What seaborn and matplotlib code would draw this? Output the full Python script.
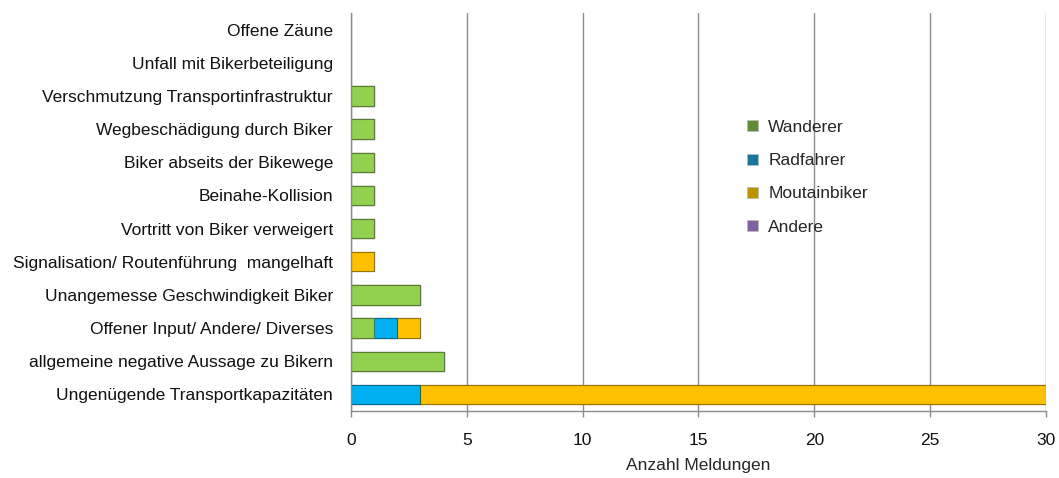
import matplotlib
matplotlib.use("Agg")
import matplotlib.pyplot as plt
import seaborn as sns
import pandas as pd
import numpy as np
from matplotlib.patches import Patch

categories = [
    "Offene Zäune",
    "Unfall mit Bikerbeteiligung",
    "Verschmutzung Transportinfrastruktur",
    "Wegbeschädigung durch Biker",
    "Biker abseits der Bikewege",
    "Beinahe-Kollision",
    "Vortritt von Biker verweigert",
    "Signalisation/ Routenführung  mangelhaft",
    "Unangemesse Geschwindigkeit Biker",
    "Offener Input/ Andere/ Diverses",
    "allgemeine negative Aussage zu Bikern",
    "Ungenügende Transportkapazitäten",
]
wanderer = [0, 0, 1, 1, 1, 1, 1, 0, 3, 1, 4, 0]
radfahrer = [0, 0, 0, 0, 0, 0, 0, 0, 0, 1, 0, 3]
mountainbiker = [0, 0, 0, 0, 0, 0, 0, 1, 0, 1, 0, 27]
andere = [0, 0, 0, 0, 0, 0, 0, 0, 0, 0, 0, 0]
series_names = ["Wanderer", "Radfahrer", "Moutainbiker", "Andere"]
bar_colors = ["#92D050", "#00B0F0", "#FFC000", "#9B7FC0"]
legend_colors = ["#5E8C35", "#1678A0", "#BF9000", "#8064A2"]

sns.set_theme(style="white")
plt.rcParams["font.family"] = ["Liberation Sans", "DejaVu Sans"]

df = pd.DataFrame({
    "cat": categories,
    "W": wanderer,
    "R": radfahrer,
    "M": mountainbiker,
    "A": andere,
})
df["c1"] = df["W"]
df["c2"] = df["c1"] + df["R"]
df["c3"] = df["c2"] + df["M"]
df["c4"] = df["c3"] + df["A"]

fig = plt.figure(figsize=(10.59, 4.78), dpi=100)
ax = fig.add_axes([0.3314, 0.1402, 0.6563, 0.8326])

for col, color in zip(["c4", "c3", "c2", "c1"], bar_colors[::-1]):
    sns.barplot(data=df, y="cat", x=col, order=categories, color=color,
                orient="h", width=0.58, ax=ax, saturation=1,
                edgecolor="none", linewidth=0)

# darker shading edge on each segment (Excel-like bevel)
for p in ax.patches:
    w = p.get_width()
    if w > 0:
        fc = p.get_facecolor()
        p.set_edgecolor(tuple(np.array(fc[:3]) * 0.6) + (1,))
        p.set_linewidth(0.8)

ax.set_xlim(0, 30)
ax.set_ylim(len(categories) - 0.5, -0.5)
ax.set_xticks(range(0, 31, 5))
ax.xaxis.grid(True, color="#8C8C8C", linewidth=1)
ax.set_axisbelow(True)
for s in ["top", "right"]:
    ax.spines[s].set_visible(False)
for s in ["left", "bottom"]:
    ax.spines[s].set_color("#8C8C8C")
    ax.spines[s].set_linewidth(1)

ax.set_yticks(range(len(categories)))
ax.set_yticklabels(categories, fontsize=12.5)
ax.tick_params(axis="y", which="major", length=0, pad=13)
ax.set_yticks(np.arange(-0.5, len(categories), 1), minor=True)
ax.tick_params(axis="y", which="minor", length=4, color="#8C8C8C", width=1, direction="out")
ax.tick_params(axis="x", length=4, color="#8C8C8C", width=1, direction="out",
               bottom=True, pad=12, labelsize=12.5)
ax.set_xlabel("Anzahl Meldungen", fontsize=12.5, labelpad=7)
ax.set_ylabel("")
for lbl in ax.get_xticklabels() + ax.get_yticklabels():
    lbl.set_color("#111111")

handles = [Patch(facecolor=c, edgecolor="#bbbbbb", linewidth=0.5) for c in legend_colors]
ax.legend(handles, series_names, loc="center left", bbox_to_anchor=(0.548, 0.587),
          frameon=False, fontsize=12.5, handlelength=0.6, handleheight=0.6,
          labelspacing=1.05, handletextpad=0.6)

fig.savefig("out.png", dpi=100)
